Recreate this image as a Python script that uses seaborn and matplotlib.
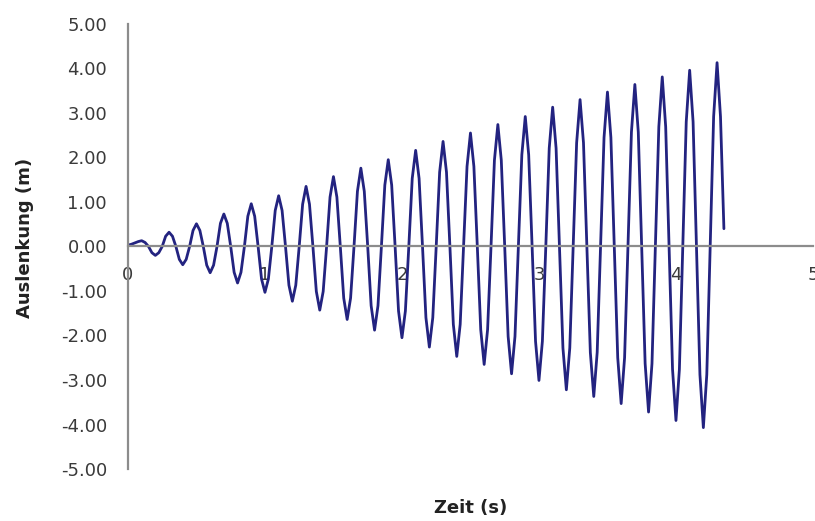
import numpy as np
import matplotlib
matplotlib.use("Agg")
import matplotlib.pyplot as plt
import seaborn as sns
from matplotlib.ticker import FuncFormatter

step_s = 0.025
auslenkung = [
    0.03, 0.05, 0.08, 0.11, 0.13, 0.09, 0.00, -0.14,
    -0.20, -0.14, 0.00, 0.23, 0.32, 0.23, 0.00, -0.29,
    -0.41, -0.29, 0.00, 0.36, 0.51, 0.36, 0.00, -0.42,
    -0.59, -0.42, 0.00, 0.52, 0.73, 0.52, 0.00, -0.58,
    -0.82, -0.58, 0.00, 0.68, 0.96, 0.68, 0.00, -0.73,
    -1.03, -0.73, 0.00, 0.81, 1.14, 0.81, 0.00, -0.87,
    -1.23, -0.87, 0.00, 0.95, 1.35, 0.95, 0.00, -1.01,
    -1.43, -1.01, 0.00, 1.11, 1.57, 1.11, 0.00, -1.16,
    -1.64, -1.16, 0.00, 1.24, 1.76, 1.24, 0.00, -1.33,
    -1.88, -1.33, 0.00, 1.38, 1.95, 1.38, 0.00, -1.45,
    -2.05, -1.45, 0.00, 1.53, 2.16, 1.53, 0.00, -1.60,
    -2.26, -1.60, 0.00, 1.67, 2.36, 1.67, 0.00, -1.75,
    -2.47, -1.75, 0.00, 1.80, 2.55, 1.80, 0.00, -1.87,
    -2.65, -1.87, 0.00, 1.94, 2.74, 1.94, 0.00, -2.02,
    -2.86, -2.02, 0.00, 2.06, 2.92, 2.06, 0.00, -2.13,
    -3.01, -2.13, 0.00, 2.21, 3.13, 2.21, 0.00, -2.28,
    -3.22, -2.28, 0.00, 2.33, 3.30, 2.33, 0.00, -2.38,
    -3.37, -2.38, 0.00, 2.45, 3.47, 2.45, 0.00, -2.50,
    -3.53, -2.50, 0.00, 2.57, 3.64, 2.57, 0.00, -2.63,
    -3.72, -2.63, 0.00, 2.69, 3.81, 2.69, 0.00, -2.76,
    -3.91, -2.76, 0.00, 2.80, 3.96, 2.80, 0.00, -2.88,
    -4.07, -2.88, 0.00, 2.92, 4.13, 2.92, 0.40,
]
zeit = np.arange(len(auslenkung)) * step_s

x_ticks = [0, 1, 2, 3, 4, 5]
y_ticks = [-5, -4, -3, -2, -1, 0, 1, 2, 3, 4, 5]

sns.set_style("white")
plt.rcParams['font.family'] = ['DejaVu Sans']

fig = plt.figure(figsize=(8.15, 5.21), dpi=100)
ax = fig.add_axes([0.157, 0.0998, 0.8405, 0.8542])

sns.lineplot(x=zeit, y=auslenkung, ax=ax, color="#232380", linewidth=2.0,
             solid_joinstyle="round", solid_capstyle="round")

ax.set_xlim(0, 5)
ax.set_ylim(-5, 5)
ax.set_xticks(x_ticks)
ax.set_yticks(y_ticks)
ax.yaxis.set_major_formatter(FuncFormatter(lambda v, p: f"{v:.2f}".replace("\u2212", "-")))

# Excel style axes: y on the left, x through zero
for side in ["top", "right"]:
    ax.spines[side].set_visible(False)
ax.spines["bottom"].set_position(("data", 0))
for side in ["left", "bottom"]:
    ax.spines[side].set_color("#8c8c8c")
    ax.spines[side].set_linewidth(1.6)

ax.tick_params(axis="y", direction="out", length=5, width=1.2, color="#8c8c8c",
               pad=10, labelsize=13, labelcolor="#3a3a3a")
ax.tick_params(axis="x", direction="in", length=4, width=1.2, color="#8c8c8c",
               pad=14, labelsize=13, labelcolor="#3a3a3a")

ax.set_ylabel("Auslenkung (m)", fontsize=13, fontweight="bold", color="#222222")
ax.yaxis.set_label_coords(-0.137, 0.52)
ax.set_xlabel("Zeit (s)", fontsize=13, fontweight="bold", color="#222222")
ax.xaxis.set_label_coords(0.5, -0.068)

fig.savefig("out.png", dpi=100, facecolor="white")
